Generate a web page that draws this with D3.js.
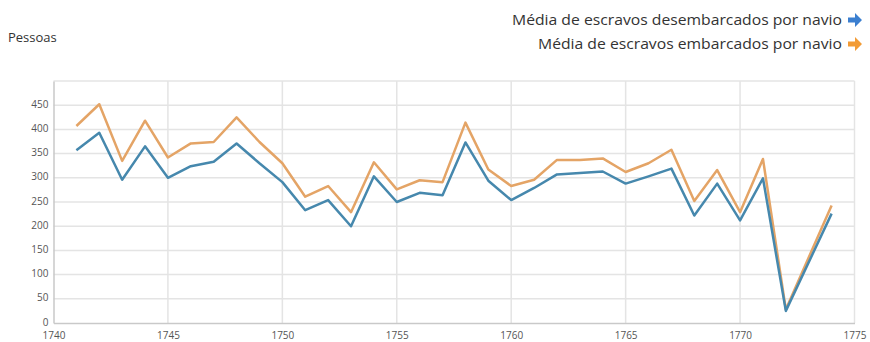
<!DOCTYPE html>
<html>
<head>
<meta charset="utf-8">
<script src="https://cdn.jsdelivr.net/npm/d3@7"></script>
<style>
  body { margin: 0; background: #fff; }
  text { font-family: "Open Sans", "Noto Sans", sans-serif; }
</style>
</head>
<body>
<svg id="chart" width="870" height="342"></svg>
<script>
(function() {

  // data (1773 has no value in the source)
  var years = [1741, 1742, 1743, 1744, 1745, 1746, 1747, 1748, 1749, 1750,
    1751, 1752, 1753, 1754, 1755, 1756, 1757, 1758, 1759, 1760,
    1761, 1762, 1763, 1764, 1765, 1766, 1767, 1768, 1769, 1770,
    1771, 1772, 1774];
  var desembarcados = [357, 393, 296, 365, 300, 324, 333, 371, 330, 291,
    233, 254, 200, 303, 250, 269, 264, 373, 294, 254,
    279, 307, 310, 313, 288, 303, 319, 222, 288, 212,
    299, 25, 226];
  var embarcados = [407, 452, 335, 418, 342, 371, 374, 425, 374, 330,
    261, 283, 229, 332, 276, 295, 291, 414, 317, 283,
    296, 337, 337, 340, 312, 330, 358, 252, 316, 229,
    339, 28, 243];
  var xTicks = [1740, 1745, 1750, 1755, 1760, 1765, 1770, 1775];
  var yTicks = [0, 50, 100, 150, 200, 250, 300, 350, 400, 450];
  var legendLabels = ["Média de escravos desembarcados por navio",
    "Média de escravos embarcados por navio"];

  var colors = ["#4688ad", "#e4a466"];      // line blue, line orange
  var arrowColors = ["#3b7fd0", "#f29b35"]; // legend arrows

  var svg = d3.select("#chart");
  var left = 53.5, right = 854.5, top = 81, bottom = 323;

  var x = d3.scaleLinear().domain([1740, 1775]).range([left, right]);
  var y = d3.scaleLinear().domain([0, 500]).range([bottom, top]);

  // grid
  svg.append("g")
      .selectAll("line")
      .data(d3.range(50, 501, 50))
      .enter().append("line")
      .attr("x1", left).attr("x2", right)
      .attr("y1", function(d) { return y(d); })
      .attr("y2", function(d) { return y(d); })
      .attr("stroke", "#e4e4e4")
      .attr("stroke-width", 1.5);

  svg.append("g")
      .selectAll("line")
      .data(xTicks.slice(1))
      .enter().append("line")
      .attr("x1", function(d) { return x(d); })
      .attr("x2", function(d) { return x(d); })
      .attr("y1", top).attr("y2", bottom)
      .attr("stroke", "#e4e4e4")
      .attr("stroke-width", 1.5);

  // axes
  var xAxis = svg.append("g")
      .attr("transform", "translate(0," + bottom + ")")
      .call(d3.axisBottom(x).tickValues(xTicks).tickFormat(d3.format("d")).tickSize(0));
  var yAxis = svg.append("g")
      .attr("transform", "translate(" + left + ",0)")
      .call(d3.axisLeft(y).tickValues(yTicks).tickSize(0));

  [xAxis, yAxis].forEach(function(a) {
    a.select(".domain").attr("stroke", "#c9c9c9").attr("stroke-width", 1.5);
    a.selectAll("text")
        .attr("fill", "#555")
        .style("font-size", "10px");
  });
  xAxis.selectAll("text").attr("dy", "0.8em").attr("y", 8);
  yAxis.selectAll("text").attr("x", -5).attr("dy", "0.2em");

  // lines
  var series = [desembarcados, embarcados];
  var line = d3.line()
      .x(function(d, i) { return x(years[i]); })
      .y(function(d) { return y(d); });

  [1, 0].forEach(function(k) {
    svg.append("path")
        .datum(series[k])
        .attr("d", line)
        .attr("fill", "none")
        .attr("stroke", colors[k])
        .attr("stroke-width", 2.5)
        .attr("stroke-linejoin", "round");
  });

  // labels
  svg.append("text")
      .attr("x", 8)
      .attr("y", 42)
      .attr("fill", "#333")
      .style("font-size", "13px")
      .text("Pessoas");

  var legendWidths = [330, 304];
  legendLabels.forEach(function(label, i) {
    var ly = 20 + i * 24;
    svg.append("text")
        .attr("x", 842)
        .attr("y", ly + 5)
        .attr("text-anchor", "end")
        .attr("fill", "#333")
        .attr("textLength", legendWidths[i])
        .attr("lengthAdjust", "spacingAndGlyphs")
        .style("font-size", "14.5px")
        .text(label);

    // arrow
    var ax = 848;
    svg.append("path")
        .attr("d", "M" + ax + "," + (ly - 2.5) + " h7 v-4.5 l7,7 l-7,7 v-4.5 h-7 z")
        .attr("fill", arrowColors[i]);
  });

})();
</script>
</body>
</html>
